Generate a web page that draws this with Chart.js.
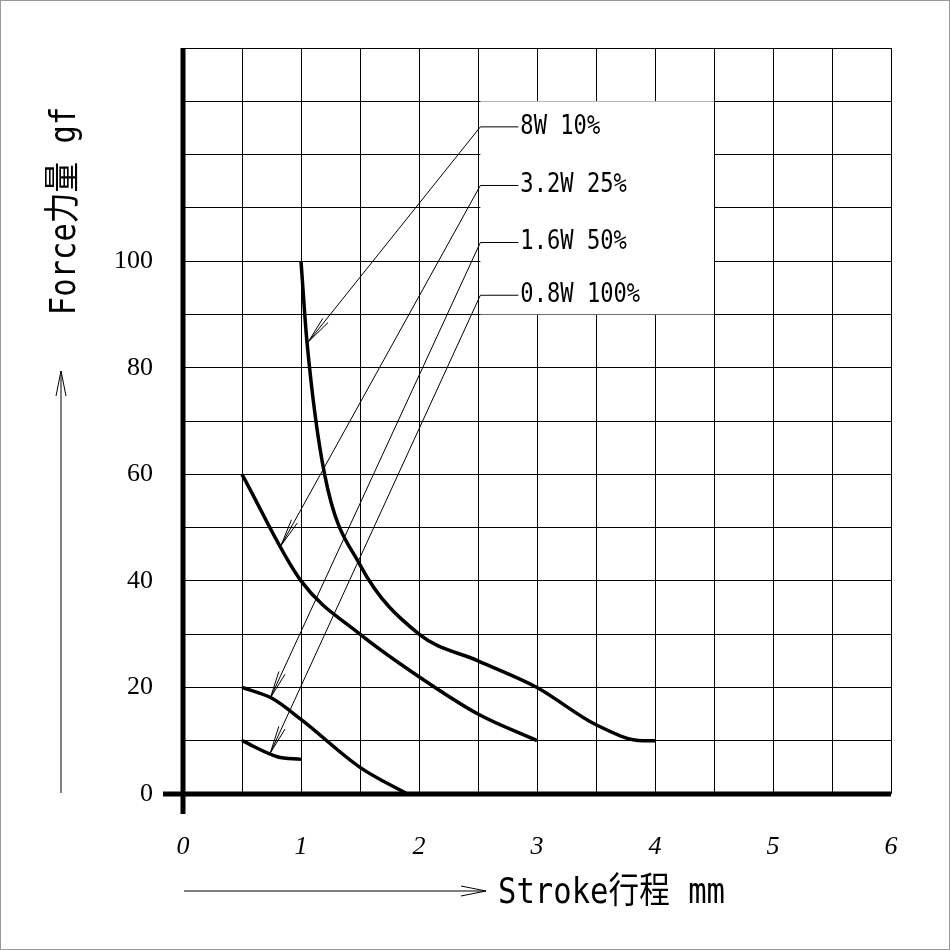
<!DOCTYPE html>
<html><head><meta charset="utf-8">
<script src="https://cdn.jsdelivr.net/npm/chart.js@4"></script>
<style>html,body{margin:0;padding:0;background:#fff}#w{width:950px;height:950px;position:relative;box-sizing:border-box;border:1px solid #999}canvas{display:block}</style>
</head><body><div id="w"><canvas id="c" width="948" height="948"></canvas></div>
<script>
const xTickLabels=['0','1','2','3','4','5','6'];
const yTickLabels=['0','20','40','60','80','100'];
const s8W_x=[1,1.05,1.2,1.5,2,2.5,3,3.5,3.9,4];
const s8W_y=[100,85,60,43,30,25,20,13,10,10];
const s32W_x=[0.5,1,1.5,2,2.5,3];
const s32W_y=[60,40,30,22,15,10];
const s16W_x=[0.5,0.75,1,1.5,1.9];
const s16W_y=[20,18,14,5,0];
const s08W_x=[0.5,0.8,1];
const s08W_y=[10,7,6.5];
const labels=['8W 10%','3.2W 25%','1.6W 50%','0.8W 100%'];
const labelY=[125.2,114.2,103.5,93.6];
const labelX=2.52;
const arrowX=[1.06,0.83,0.74,0.74];
const arrowY=[84.8,46.6,18,7.7];
const mk=(xs,ys)=>xs.map((x,i)=>({x,y:ys[i]}));
const ds=(d)=>({data:d,borderColor:'#000',borderWidth:3.5,pointRadius:0,cubicInterpolationMode:'monotone',fill:false});
const font="'Liberation Serif', serif";
const anno={id:'anno',afterDraw(ch){
 const c=ch.ctx,xs=ch.scales.x,ys=ch.scales.y;
 c.save();
 c.fillStyle='#fff';c.fillRect(xs.getPixelForValue(2.52),ys.getPixelForValue(130),xs.getPixelForValue(4.5)-xs.getPixelForValue(2.52),ys.getPixelForValue(90)-ys.getPixelForValue(130));
 c.strokeStyle='#000';c.lineWidth=1;c.fillStyle='#000';
 c.font="26px 'DejaVu Sans Mono', monospace";c.textBaseline='middle';
 labels.forEach((t,i)=>{
  const lx=xs.getPixelForValue(labelX),ly=ys.getPixelForValue(labelY[i]);
  const ax=xs.getPixelForValue(arrowX[i]),ay=ys.getPixelForValue(arrowY[i]);
  c.beginPath();c.moveTo(lx+38,ly);c.lineTo(lx,ly);c.lineTo(ax,ay);c.stroke();
  const ang=Math.atan2(ly-ay,lx-ax);
  c.beginPath();c.moveTo(ax+28*Math.cos(ang+0.12),ay+28*Math.sin(ang+0.12));c.lineTo(ax,ay);c.lineTo(ax+28*Math.cos(ang-0.12),ay+28*Math.sin(ang-0.12));c.stroke();
  c.save();c.scale(0.85,1);c.fillText(t,(lx+40)/0.85,ly);c.restore();
 });
 c.lineWidth=5;c.beginPath();c.moveTo(xs.getPixelForValue(0),ys.getPixelForValue(140));c.lineTo(xs.getPixelForValue(0),ys.getPixelForValue(0)+20);c.stroke();
 c.beginPath();c.moveTo(xs.getPixelForValue(0)-20,ys.getPixelForValue(0));c.lineTo(xs.getPixelForValue(6),ys.getPixelForValue(0));c.stroke();
 c.lineWidth=1;
 c.beginPath();c.moveTo(183,890);c.lineTo(485,890);c.stroke();
 c.beginPath();c.moveTo(460,885);c.lineTo(485,890);c.lineTo(460,895);c.stroke();
 c.font="36px 'DejaVu Sans Mono', 'Noto Sans CJK SC', monospace";c.textBaseline='middle';c.textAlign='left';
 c.save();c.scale(0.85,1);c.fillText('Stroke行程 mm',497/0.85,893);c.restore();
 c.beginPath();c.moveTo(60,792);c.lineTo(60,370);c.stroke();
 c.beginPath();c.moveTo(55,395);c.lineTo(60,370);c.lineTo(65,395);c.stroke();
 c.save();c.translate(65,210);c.rotate(-Math.PI/2);c.scale(0.85,1);c.textAlign='center';c.fillText('Force力量 gf',0,0);c.restore();
 c.restore();
}};
new Chart(document.getElementById('c'),{type:'line',
 data:{datasets:[ds(mk(s8W_x,s8W_y)),ds(mk(s32W_x,s32W_y)),ds(mk(s16W_x,s16W_y)),ds(mk(s08W_x,s08W_y))]},
 options:{responsive:false,animation:false,devicePixelRatio:1,
  layout:{padding:{top:47,right:58,left:0,bottom:0}},
  plugins:{legend:{display:false},tooltip:{enabled:false}},
  scales:{
   x:{type:'linear',min:0,max:6,afterFit:s=>{s.height=155},
    grid:{color:'#000',lineWidth:1,drawTicks:false},border:{display:false},
    ticks:{stepSize:0.5,padding:38,color:'#000',maxRotation:0,font:{family:font,size:26,style:'italic'},
     callback:v=>Number.isInteger(v)?xTickLabels[v]:''}},
   y:{min:0,max:140,afterFit:s=>{s.width=182},
    grid:{color:'#000',lineWidth:1,drawTicks:false},border:{display:false},
    ticks:{stepSize:10,padding:30,color:'#000',font:{family:font,size:26},
     callback:v=>(v%20===0&&v<=100)?yTickLabels[v/20]:''}}
  }},plugins:[anno]});
</script></body></html>
